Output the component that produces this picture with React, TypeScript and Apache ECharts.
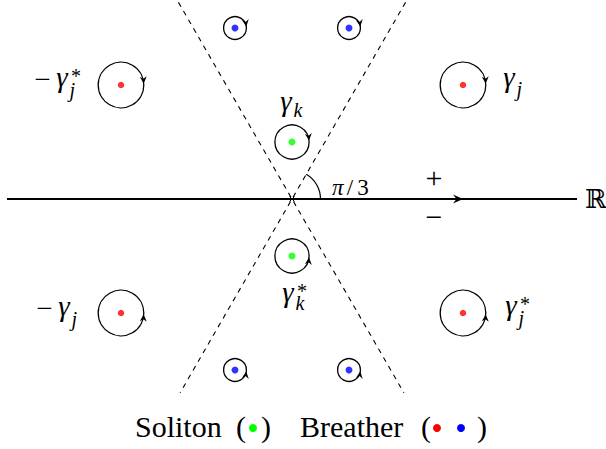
import React, { useEffect, useRef } from "react";
import * as echarts from "echarts";

// ---- geometry / data (1 unit = distance between lattice points) ----
const PX = 57;
const X_MIN = -292 / PX;
const X_MAX = 314 / PX;
const Y_MIN = -250 / PX;
const Y_MAX = 199 / PX;

const solitonPoles = [[0, 1], [0, -1]];
const breatherRedPoles = [[3, 2], [-3, 2], [-3, -2], [3, -2]];
const breatherBluePoles = [[1, 3], [-1, 3], [-1, -3], [1, -3]];
const loopRadius = { soliton: 0.3, red: 0.4, blue: 0.2 };

const realLine = [[-5, 0], [5, 0]];
const axisArrowAt = [[3, 0]];
const rayTopY = 3.45;
const rayBottomY = -3.4;
const rayAngle = Math.PI / 3;
const angleArcRadius = 0.5;

const poleLabelPrefix = ["−", "", "", "", "−", ""];
const poleLabelSub = ["j", "j", "k", "k", "j", "j"];
const poleLabelSup = ["*", "", "", "*", "", "*"];
const poleLabelX = [-4.035, 3.807, -0.105, -0.07, -4.0, 3.842];
const poleLabelY = [2.018, 2.035, 1.614, -1.737, -1.99, -1.982];

const sideTexts = ["+", "−", "ℝ"];
const sideTextX = [2.49, 2.49, 5.14];
const sideTextY = [0.37, -0.31, 0];
const angleLabelAt = [0.7, 0.21];

const SERIF = "Liberation Serif";

const rayLine = (sign: number) => [
  [(sign * rayTopY) / Math.tan(rayAngle), rayTopY],
  [(sign * rayBottomY) / Math.tan(rayAngle), rayBottomY],
];

function arrowHead(tx: number, ty: number, dx: number, dy: number, L: number, W: number) {
  const nx = -dy;
  const ny = dx;
  return [
    [tx, ty],
    [tx - L * dx + W * nx, ty - L * dy + W * ny],
    [tx - 0.65 * L * dx, ty - 0.65 * L * dy],
    [tx - L * dx - W * nx, ty - L * dy - W * ny],
  ];
}

const txt = (
  x: number,
  y: number,
  text: string,
  size: number,
  italic = false,
  align = "left",
  family = SERIF
) => {
  const style: any = { text, fontSize: size, fontFamily: family, fill: "#000", align, verticalAlign: "middle" };
  if (italic) style.fontStyle = "italic";
  return { type: "text", x, y, style };
};

export default function App() {
  const ref = useRef<HTMLDivElement>(null);
  const textRef = useRef<HTMLDivElement>(null);

  useEffect(() => {
    document.body.style.margin = "0";
    const chart = echarts.init(ref.current!, undefined, { renderer: "svg" });

    const loopData: number[][] = [];
    breatherRedPoles.forEach((p) => loopData.push([p[0], p[1], loopRadius.red, Math.sign(p[1])]));
    breatherBluePoles.forEach((p) => loopData.push([p[0], p[1], loopRadius.blue, Math.sign(p[1])]));
    solitonPoles.forEach((p) => loopData.push([p[0], p[1], loopRadius.soliton, Math.sign(p[1])]));

    const option: any = {
      animation: false,
      grid: { left: 0, right: 0, top: 0, bottom: 0 },
      xAxis: { type: "value", min: X_MIN, max: X_MAX, show: false },
      yAxis: { type: "value", min: Y_MIN, max: Y_MAX, show: false },
      series: [
        { type: "line", data: realLine, symbol: "none", silent: true, lineStyle: { color: "#000", width: 2 }, z: 2 },
        { type: "line", data: rayLine(-1), symbol: "none", silent: true, lineStyle: { color: "#000", width: 1.1, type: [5, 5] }, z: 2 },
        { type: "line", data: rayLine(1), symbol: "none", silent: true, lineStyle: { color: "#000", width: 1.1, type: [5, 5] }, z: 2 },
        {
          type: "custom",
          silent: true,
          data: axisArrowAt,
          z: 3,
          renderItem: (params: any, api: any) => {
            const [tx, ty] = api.coord([api.value(0), api.value(1)]);
            const [ox, oy] = api.coord([0, 0]);
            const ar = api.size([angleArcRadius, 0])[0];
            const c = 2.5;
            return {
              type: "group",
              children: [
                { type: "polygon", shape: { points: arrowHead(tx, ty, 1, 0, 10, 4.5) }, style: { fill: "#000" } },
                { type: "line", shape: { x1: ox - c, y1: oy - c, x2: ox + c, y2: oy + c }, style: { stroke: "#000", lineWidth: 1 } },
                { type: "line", shape: { x1: ox - c, y1: oy + c, x2: ox + c, y2: oy - c }, style: { stroke: "#000", lineWidth: 1 } },
                {
                  type: "arc",
                  shape: { cx: ox, cy: oy, r: ar, startAngle: -rayAngle, endAngle: 0, clockwise: true },
                  style: { stroke: "#000", lineWidth: 1.2, fill: "none" },
                },
              ],
            };
          },
        },
        {
          type: "custom",
          silent: true,
          data: loopData,
          z: 4,
          renderItem: (params: any, api: any) => {
            const [cx, cy] = api.coord([api.value(0), api.value(1)]);
            const r = api.size([api.value(2), 0])[0];
            const o = api.value(3);
            const h = 1.6;
            const th = Math.asin(h / r);
            const tx = cx + r * Math.cos(th);
            const ty = cy - o * h;
            const dx = Math.sin(th);
            const dy = o * Math.cos(th);
            return {
              type: "group",
              children: [
                { type: "circle", shape: { cx, cy, r }, style: { fill: "none", stroke: "#000", lineWidth: 1.3 } },
                { type: "polygon", shape: { points: arrowHead(tx, ty, dx, dy, 7, 3.5) }, style: { fill: "#000" } },
              ],
            };
          },
        },
        { type: "scatter", data: breatherRedPoles, symbol: "circle", symbolSize: 6.5, silent: true, itemStyle: { color: "#ff0000" }, z: 5 },
        { type: "scatter", data: breatherBluePoles, symbol: "circle", symbolSize: 7, silent: true, itemStyle: { color: "#0000ff" }, z: 5 },
        { type: "scatter", data: solitonPoles, symbol: "circle", symbolSize: 7, silent: true, itemStyle: { color: "#00ff00" }, z: 5 },
      ],
    };
    chart.setOption(option);

    // ---- texts: positions taken from the chart's own scales ----
    const toPx = (p: number[]) => chart.convertToPixel({ gridIndex: 0 }, p) as number[];
    const texts: any[] = [];
    poleLabelX.forEach((x, i) => {
      const [gx, gy] = toPx([x, poleLabelY[i]]);
      const sub = poleLabelSub[i];
      const sup = poleLabelSup[i];
      texts.push(txt(gx, gy - 6.5, "γ", 29, true, "center"));
      if (poleLabelPrefix[i]) texts.push(txt(gx - 19.5, gy - 4.5, poleLabelPrefix[i], 29, false, "center"));
      const subDy = sub === "j" ? 6.2 : sup ? 5 : 2.5;
      texts.push(txt(gx + 7.5, gy + subDy, sub, 20, true, "left"));
      if (sup) texts.push(txt(gx + 9, gy - 7.5, sup, 20, false, "left"));
    });
    sideTexts.forEach((t, i) => {
      const [x, y] = toPx([sideTextX[i], sideTextY[i]]);
      if (t === "ℝ") texts.push(txt(x, y, t, 26, false, "left", "DejaVu Serif"));
      else texts.push(txt(x, y, t, 30, false, "center"));
    });
    {
      const [ax, ay] = toPx(angleLabelAt);
      texts.push(txt(ax, ay, "π", 23, true, "left"), txt(ax + 18, ay, "/", 23, false, "center"), txt(ax + 31, ay, "3", 23, false, "center"));
    }
    // legend
    texts.push(
      txt(135, 426, "Soliton", 30),
      txt(236, 426, "(", 30),
      { type: "circle", shape: { cx: 253, cy: 428, r: 4 }, style: { fill: "#00ff00" } },
      txt(261, 426, ")", 30),
      txt(300, 426, "Breather", 30),
      txt(421, 426, "(", 30),
      { type: "circle", shape: { cx: 437, cy: 428, r: 4 }, style: { fill: "#ff0000" } },
      { type: "circle", shape: { cx: 461, cy: 428, r: 4 }, style: { fill: "#0000ff" } },
      txt(477, 426, ")", 30)
    );

    const textChart = echarts.init(textRef.current!, undefined, { renderer: "svg" });
    textChart.setOption({ animation: false, graphic: texts });

    return () => {
      textChart.dispose();
      chart.dispose();
    };
  }, []);

  return (
    <div style={{ position: "absolute", left: 0, top: 0, width: 606, height: 449, background: "#fff" }}>
      <div ref={ref} style={{ position: "absolute", left: 0, top: 0, width: 606, height: 449 }} />
      <div
        ref={textRef}
        style={{ position: "absolute", left: 0, top: 0, width: 606, height: 449, pointerEvents: "none" }}
      />
    </div>
  );
}
